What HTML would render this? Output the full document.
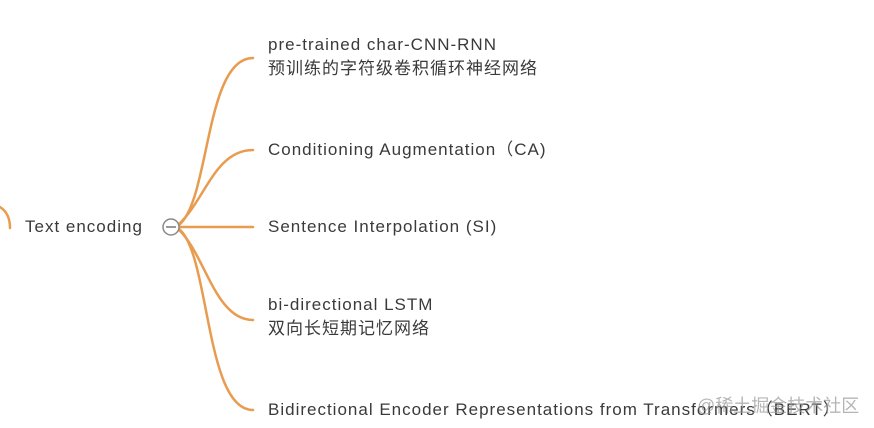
<!DOCTYPE html>
<html><head><meta charset="utf-8"><style>
body{margin:0;width:874px;height:428px;background:#fff;overflow:hidden;position:relative;font-family:"Liberation Sans","Noto Sans CJK SC",sans-serif;color:#3a3a3a}
.t{position:absolute;font-size:17px;line-height:24px;white-space:nowrap;letter-spacing:1px}
</style></head><body>
<svg width="874" height="428" style="position:absolute;left:0;top:0">
<g fill="none" stroke="#e89c4f" stroke-width="2.5" stroke-linecap="round">
<path d="M0,207 C8,212 10,220 10,228"/>
<path d="M179,225 C210,200 205,58 253,58"/>
<path d="M179,224 C205,200 215,150 253,150"/>
<path d="M179,227 L253,227"/>
<path d="M179,230 C205,254 215,320 253,320"/>
<path d="M179,229 C210,254 205,410 253,410"/>
</g>
<circle cx="171" cy="227" r="8" fill="#fff" stroke="#888" stroke-width="1.5"/>
<line x1="166" y1="227" x2="176" y2="227" stroke="#777" stroke-width="1.5"/>
</svg>
<div class="t" style="left:25px;top:215px">Text encoding</div>
<div class="t" style="left:268px;top:33px">pre-trained char-CNN-RNN<br>预训练的字符级卷积循环神经网络</div>
<div class="t" style="left:268px;top:138px">Conditioning Augmentation（CA)</div>
<div class="t" style="left:268px;top:215px">Sentence Interpolation (SI)</div>
<div class="t" style="left:268px;top:293px">bi-directional LSTM<br>双向长短期记忆网络</div>
<div class="t" style="left:268px;top:398px">Bidirectional Encoder Representations from Transformers（BERT）</div>
<div class="t" style="left:697px;top:394px;color:rgba(150,150,150,0.7);font-size:18px;letter-spacing:0">@稀土掘金技术社区</div>
</body></html>
